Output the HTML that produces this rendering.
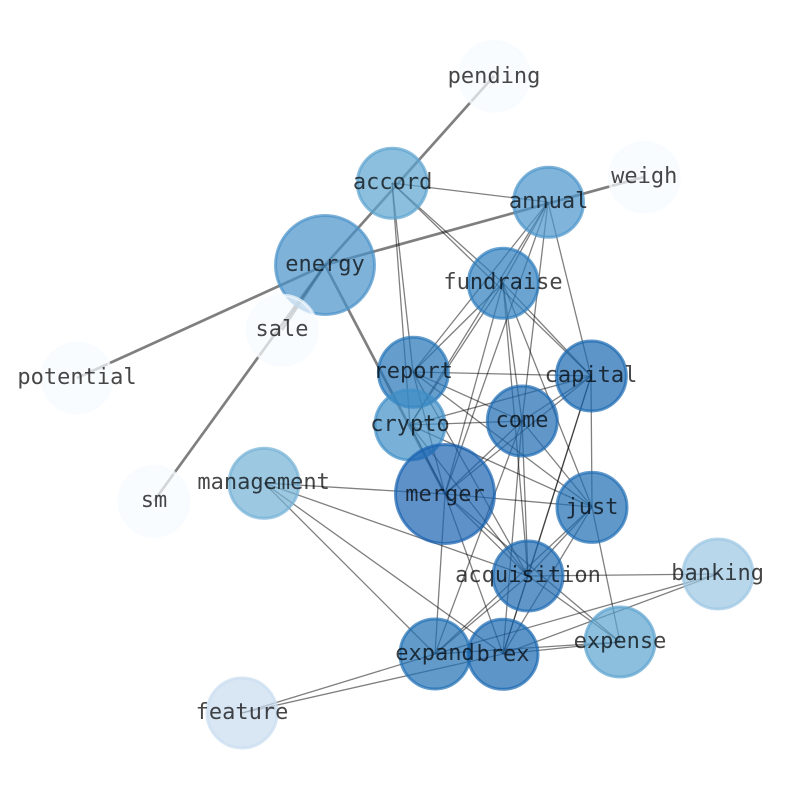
<!DOCTYPE html>
<html><head><meta charset="utf-8"><style>
html,body{margin:0;padding:0;background:#fff}
svg{display:block}
.e line{stroke:#000;stroke-opacity:.5;stroke-width:1.3}
.t line{stroke:#000;stroke-opacity:.5;stroke-width:2.7}
.n circle{stroke-width:3;fill-opacity:.7;stroke-opacity:.7}
text{font-family:"DejaVu Sans Mono",monospace;font-size:22px;fill:#000;fill-opacity:.72;text-anchor:middle}
</style></head><body>
<svg width="794" height="790" viewBox="0 0 794 790" xmlns="http://www.w3.org/2000/svg">
<g class="t">
<line x1="325" y1="265" x2="494" y2="76"/>
<line x1="325" y1="265" x2="644" y2="177"/>
<line x1="325" y1="265" x2="77" y2="378"/>
<line x1="325" y1="265" x2="154" y2="501"/>
<line x1="325" y1="265" x2="282" y2="330"/>
<line x1="325" y1="265" x2="445" y2="494"/>
</g>
<g class="e">
<line x1="392" y1="183" x2="548" y2="202"/>
<line x1="392" y1="183" x2="503" y2="283"/>
<line x1="392" y1="183" x2="591" y2="376"/>
<line x1="392" y1="183" x2="413" y2="372"/>
<line x1="392" y1="183" x2="410" y2="425"/>
<line x1="548" y1="202" x2="503" y2="283"/>
<line x1="548" y1="202" x2="413" y2="372"/>
<line x1="548" y1="202" x2="410" y2="425"/>
<line x1="548" y1="202" x2="445" y2="494"/>
<line x1="548" y1="202" x2="522" y2="421"/>
<line x1="548" y1="202" x2="591" y2="376"/>
<line x1="503" y1="283" x2="413" y2="372"/>
<line x1="503" y1="283" x2="410" y2="425"/>
<line x1="503" y1="283" x2="445" y2="494"/>
<line x1="503" y1="283" x2="522" y2="421"/>
<line x1="503" y1="283" x2="591" y2="376"/>
<line x1="503" y1="283" x2="592" y2="507"/>
<line x1="503" y1="283" x2="528" y2="576"/>
<line x1="413" y1="372" x2="591" y2="376"/>
<line x1="413" y1="372" x2="522" y2="421"/>
<line x1="413" y1="372" x2="592" y2="507"/>
<line x1="413" y1="372" x2="528" y2="576"/>
<line x1="413" y1="372" x2="445" y2="494"/>
<line x1="410" y1="425" x2="591" y2="376"/>
<line x1="410" y1="425" x2="522" y2="421"/>
<line x1="410" y1="425" x2="592" y2="507"/>
<line x1="410" y1="425" x2="445" y2="494"/>
<line x1="410" y1="425" x2="528" y2="576"/>
<line x1="522" y1="421" x2="591" y2="376"/>
<line x1="522" y1="421" x2="445" y2="494"/>
<line x1="522" y1="421" x2="592" y2="507"/>
<line x1="522" y1="421" x2="528" y2="576"/>
<line x1="522" y1="421" x2="435" y2="654"/>
<line x1="522" y1="421" x2="503" y2="654"/>
<line x1="591" y1="376" x2="445" y2="494"/>
<line x1="591" y1="376" x2="592" y2="507"/>
<line x1="591" y1="376" x2="528" y2="576"/>
<line x1="591" y1="376" x2="503" y2="654"/>
<line x1="445" y1="494" x2="264" y2="483"/>
<line x1="445" y1="494" x2="592" y2="507"/>
<line x1="445" y1="494" x2="528" y2="576"/>
<line x1="445" y1="494" x2="620" y2="642"/>
<line x1="445" y1="494" x2="435" y2="654"/>
<line x1="445" y1="494" x2="503" y2="654"/>
<line x1="592" y1="507" x2="528" y2="576"/>
<line x1="592" y1="507" x2="435" y2="654"/>
<line x1="592" y1="507" x2="503" y2="654"/>
<line x1="592" y1="507" x2="620" y2="642"/>
<line x1="528" y1="576" x2="718" y2="574"/>
<line x1="528" y1="576" x2="620" y2="642"/>
<line x1="528" y1="576" x2="435" y2="654"/>
<line x1="528" y1="576" x2="503" y2="654"/>
<line x1="528" y1="576" x2="264" y2="483"/>
<line x1="264" y1="483" x2="435" y2="654"/>
<line x1="264" y1="483" x2="503" y2="654"/>
<line x1="718" y1="574" x2="435" y2="654"/>
<line x1="718" y1="574" x2="503" y2="654"/>
<line x1="620" y1="642" x2="435" y2="654"/>
<line x1="620" y1="642" x2="503" y2="654"/>
<line x1="242" y1="713" x2="435" y2="654"/>
<line x1="242" y1="713" x2="503" y2="654"/>
</g>
<g class="n">
<circle cx="494.3" cy="76.3" r="35" fill="#f7fbff" stroke="#f7fbff"/>
<circle cx="644.3" cy="177.3" r="35" fill="#f7fbff" stroke="#f7fbff"/>
<circle cx="392.3" cy="183.3" r="35" fill="#5ba2cf" stroke="#5ba2cf"/>
<circle cx="548.5" cy="202.3" r="35" fill="#4a94ca" stroke="#4a94ca"/>
<circle cx="325" cy="265" r="49.5" fill="#4892c9" stroke="#4892c9"/>
<circle cx="282.3" cy="330.3" r="35" fill="#f7fbff" stroke="#f7fbff"/>
<circle cx="503.3" cy="283.3" r="35" fill="#2c7cbd" stroke="#2c7cbd"/>
<circle cx="77" cy="378" r="35" fill="#f7fbff" stroke="#f7fbff"/>
<circle cx="413.4" cy="372.3" r="35" fill="#2474b7" stroke="#2474b7"/>
<circle cx="591.3" cy="376" r="35" fill="#1a68b0" stroke="#1a68b0"/>
<circle cx="410" cy="425" r="35" fill="#3f8fc6" stroke="#3f8fc6"/>
<circle cx="522.3" cy="421" r="35" fill="#1c69b1" stroke="#1c69b1"/>
<circle cx="154" cy="501.3" r="35" fill="#f7fbff" stroke="#f7fbff"/>
<circle cx="264" cy="483.3" r="35" fill="#74b0d6" stroke="#74b0d6"/>
<circle cx="445" cy="494" r="49.5" fill="#1963b0" stroke="#1963b0"/>
<circle cx="592" cy="507.4" r="35" fill="#1e6cb4" stroke="#1e6cb4"/>
<circle cx="528" cy="576" r="35" fill="#1c69b1" stroke="#1c69b1"/>
<circle cx="718" cy="574" r="35" fill="#9bc6e2" stroke="#9bc6e2"/>
<circle cx="620" cy="642" r="35" fill="#5ba2cf" stroke="#5ba2cf"/>
<circle cx="435" cy="654" r="35" fill="#206fb4" stroke="#206fb4"/>
<circle cx="503" cy="654.3" r="35" fill="#1a68b0" stroke="#1a68b0"/>
<circle cx="242" cy="713" r="35" fill="#c9ddf0" stroke="#c9ddf0"/>
</g>
<g>
<text x="494" y="83">pending</text>
<text x="644.3" y="183">weigh</text>
<text x="392.6" y="189">accord</text>
<text x="548.6" y="208">annual</text>
<text x="325" y="271">energy</text>
<text x="282" y="336">sale</text>
<text x="503" y="289">fundraise</text>
<text x="77" y="384">potential</text>
<text x="413.3" y="378">report</text>
<text x="591" y="382">capital</text>
<text x="410" y="431">crypto</text>
<text x="522" y="427">come</text>
<text x="154" y="507">sm</text>
<text x="263.6" y="489">management</text>
<text x="445" y="501">merger</text>
<text x="592" y="514">just</text>
<text x="528" y="582">acquisition</text>
<text x="717.6" y="580">banking</text>
<text x="620" y="648">expense</text>
<text x="435" y="660">expand</text>
<text x="503" y="661">brex</text>
<text x="242" y="719">feature</text>
</g>
</svg>
</body></html>
